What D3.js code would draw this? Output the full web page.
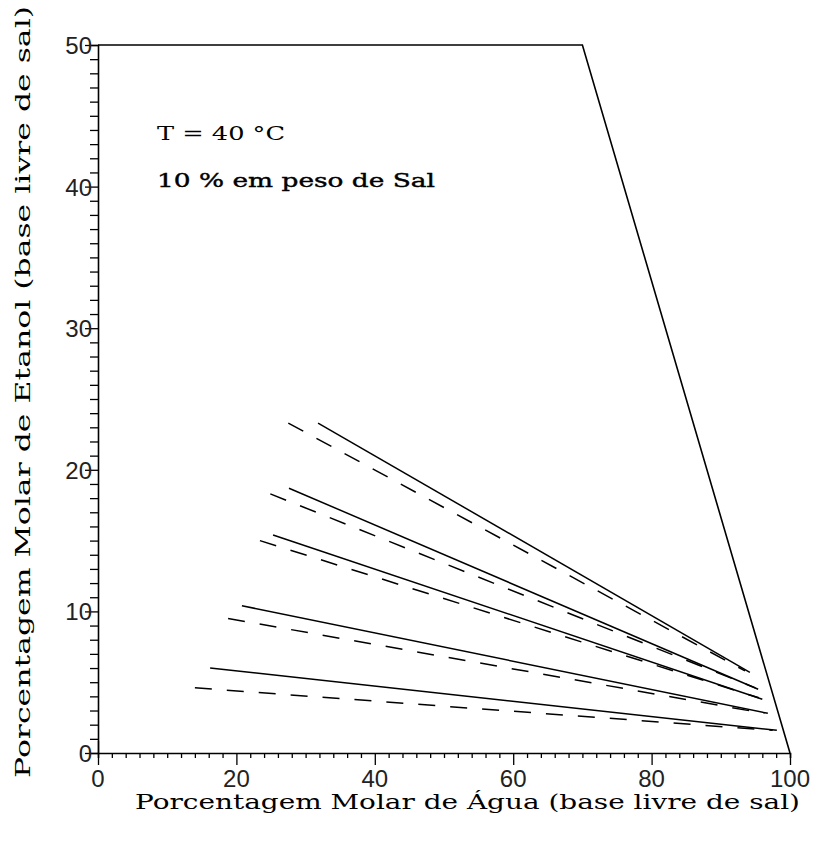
<!DOCTYPE html>
<html>
<head>
<meta charset="utf-8">
<script src="https://cdn.jsdelivr.net/npm/d3@7"></script>
<style>
  html, body { margin: 0; padding: 0; background: #fff; }
  svg { display: block; }
</style>
</head>
<body>
<div id="chart"></div>
<script>
// ---- data ----
const xTicks = [0, 20, 40, 60, 80, 100];
const yTicks = [0, 10, 20, 30, 40, 50];
const xTickLabels = ["0", "20", "40", "60", "80", "100"];
const yTickLabels = ["0", "10", "20", "30", "40", "50"];

// boundary (binodal border) of the region
const boundaryX = [0, 70, 100];
const boundaryY = [50, 50, 0];

// experimental tie lines (solid)
const solidStartX = [31.8, 27.6, 25.3, 20.8, 16.2];
const solidStartY = [23.3, 18.7, 15.4, 10.4, 6.0];
const solidEndX   = [94.2, 95.4, 96.0, 96.8, 98.1];
const solidEndY   = [5.7, 4.5, 3.8, 2.8, 1.6];

// calculated tie lines (dashed)
const dashStartX = [27.5, 24.9, 23.4, 18.8, 14.0];
const dashStartY = [23.3, 18.3, 15.0, 9.5, 4.6];
const dashEndX   = [93.5, 95.0, 95.5, 96.3, 97.5];
const dashEndY   = [5.8, 4.6, 3.9, 2.8, 1.6];

const annotations = ["T = 40 \u00B0C", "10 % em peso de Sal"];
const xTitle = "Porcentagem Molar de \u00C1gua (base livre de sal)";
const yTitle = "Porcentagem Molar de Etanol (base livre de sal)";

// ---- drawing ----
const W = 819, H = 842;
const svg = d3.select("#chart").append("svg").attr("width", W).attr("height", H);

const x = d3.scaleLinear().domain([0, 100]).range([98, 790]);
const y = d3.scaleLinear().domain([0, 50]).range([753, 45]);

const serif = "'DejaVu Serif', 'Liberation Serif', serif";
const sans = "'Liberation Sans', Arial, sans-serif";

// x axis
const xAxis = d3.axisBottom(x)
  .tickValues(d3.range(0, 101, 2))
  .tickSize(5)
  .tickFormat("");
const gx = svg.append("g").attr("transform", `translate(0,${y(0)})`).call(xAxis);
gx.select(".domain").attr("stroke", "#000").attr("stroke-width", 1.6);
gx.selectAll(".tick line").attr("stroke", "#000").attr("stroke-width", 1.3)
  .attr("y2", d => (d % 20 === 0 ? 12 : 5));
gx.selectAll(".tick").filter(d => d === 0).select("line").attr("y1", -12);

svg.append("g").selectAll("text").data(xTicks).join("text")
  .attr("x", d => x(d)).attr("y", y(0) + 34)
  .attr("text-anchor", "middle")
  .attr("font-family", sans).attr("font-size", 24).attr("fill", "#222")
  .text((d, i) => xTickLabels[i]);

// y axis
const yAxis = d3.axisLeft(y)
  .tickValues(d3.range(0, 51, 1))
  .tickSize(8)
  .tickFormat("");
const gy = svg.append("g").attr("transform", `translate(${x(0)},0)`).call(yAxis);
gy.select(".domain").attr("stroke", "#000").attr("stroke-width", 1.6);
gy.selectAll(".tick line").attr("stroke", "#000").attr("stroke-width", 1.3)
  .attr("x2", d => (d % 10 === 0 ? -13 : -8));

svg.append("g").selectAll("text").data(yTicks).join("text")
  .attr("x", x(0) - 6).attr("y", d => y(d) + 9)
  .attr("text-anchor", "end")
  .attr("font-family", sans).attr("font-size", 24).attr("fill", "#222")
  .text((d, i) => yTickLabels[i]);

// boundary
const line = d3.line().x(d => x(d[0])).y(d => y(d[1]));
svg.append("path")
  .datum(boundaryX.map((v, i) => [v, boundaryY[i]]))
  .attr("d", line)
  .attr("fill", "none").attr("stroke", "#000").attr("stroke-width", 1.6);

// solid tie lines
svg.append("g").selectAll("path").data(solidStartX).join("path")
  .attr("d", (d, i) => line([[solidStartX[i], solidStartY[i]], [solidEndX[i], solidEndY[i]]]))
  .attr("fill", "none").attr("stroke", "#000").attr("stroke-width", 1.5);

// dashed tie lines
svg.append("g").selectAll("path").data(dashStartX).join("path")
  .attr("d", (d, i) => line([[dashStartX[i], dashStartY[i]], [dashEndX[i], dashEndY[i]]]))
  .attr("fill", "none").attr("stroke", "#000").attr("stroke-width", 1.5)
  .attr("stroke-dasharray", "17,15");

// annotations
svg.append("text").attr("x", 157).attr("y", 140)
  .attr("font-family", serif).attr("font-size", 19).attr("fill", "#000")
  .attr("textLength", 128).attr("lengthAdjust", "spacingAndGlyphs")
  .text(annotations[0]);
svg.append("text").attr("x", 157).attr("y", 187)
  .attr("font-family", serif).attr("font-size", 19).attr("fill", "#000")
  .attr("stroke", "#000").attr("stroke-width", 0.4)
  .attr("textLength", 278).attr("lengthAdjust", "spacingAndGlyphs")
  .text(annotations[1]);

// axis titles
svg.append("text").attr("x", 135).attr("y", 809)
  .attr("font-family", serif).attr("font-size", 21).attr("fill", "#000")
  .attr("textLength", 665).attr("lengthAdjust", "spacingAndGlyphs")
  .text(xTitle);

svg.append("text")
  .attr("transform", `translate(30,392) rotate(-90)`)
  .attr("text-anchor", "middle")
  .attr("font-family", serif).attr("font-size", 21).attr("fill", "#000")
  .attr("textLength", 772).attr("lengthAdjust", "spacingAndGlyphs")
  .text(yTitle);
</script>
</body>
</html>
